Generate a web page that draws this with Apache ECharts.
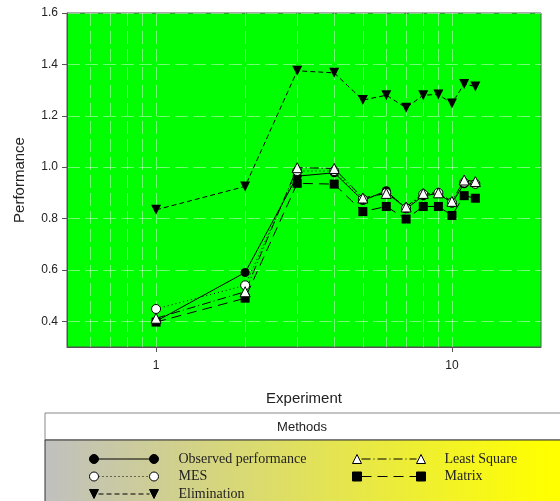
<!DOCTYPE html>
<html>
<head>
<meta charset="utf-8">
<script src="https://cdn.jsdelivr.net/npm/echarts@6/dist/echarts.min.js"></script>
<style>
  html, body { margin: 0; padding: 0; background: #fff; }
  #chart { width: 560px; height: 501px; }
</style>
</head>
<body>
<div id="chart"></div>
<script>
// experiment numbers (log x axis)
const experiments = [1, 2, 3, 4, 5, 6, 7, 8, 9, 10, 11, 12];
const observed    = [0.40, 0.59, 0.965, 0.978, 0.870, 0.908, 0.838, 0.888, 0.898, 0.860, 0.935, 0.935];
const mes         = [0.448, 0.540, 0.985, 0.985, 0.875, 0.900, 0.840, 0.895, 0.900, 0.862, 0.940, 0.935];
const elimination = [0.834, 0.925, 1.375, 1.367, 1.261, 1.280, 1.231, 1.280, 1.283, 1.248, 1.324, 1.314];
const leastSquare = [0.412, 0.515, 0.998, 0.995, 0.880, 0.898, 0.845, 0.898, 0.900, 0.867, 0.950, 0.944];
const matrix      = [0.397, 0.490, 0.937, 0.934, 0.827, 0.847, 0.798, 0.847, 0.847, 0.812, 0.889, 0.879];

const xTickValues = [1, 10];
const xGridValues = [0.6, 0.7, 0.8, 0.9, 1, 2, 3, 4, 5, 6, 7, 8, 9, 10];
const yTickValues = [0.4, 0.6, 0.8, 1.0, 1.2, 1.4, 1.6];

const pairs = (ys) => experiments.map((x, i) => [x, ys[i]]);

// legend glyphs: a line with a marker at both ends
function segs(x0, x1, y, pattern) {
  if (!pattern) return `M${x0},${y}L${x1},${y}`;
  let s = '', x = x0, k = 0;
  while (x < x1) {
    const len = pattern[k % pattern.length];
    const end = Math.min(x + len, x1);
    if (k % 2 === 0) s += `M${x},${y}L${end},${y}`;
    x = end; k++;
  }
  return s;
}
function glyph(kind, w, pattern) {
  const r = 4.5, a = r, b = w - r;
  let m = '';
  for (const c of [a, b]) {
    if (kind === 'circle') m += `M${c - r},4.5a4.5,4.5 0 1,0 9,0a4.5,4.5 0 1,0 -9,0Z`;
    if (kind === 'down') m += `M${c - r},0L${c + r},0L${c},9Z`;
    if (kind === 'up') m += `M${c - r},9L${c + r},9L${c},0Z`;
    if (kind === 'square') m += `M${c - r},0L${c + r},0L${c + r},9L${c - r},9Z`;
  }
  return 'path://' + m + segs(a + r, b - r, 4.5, pattern);
}

const dotted = [1, 3];
const dashed = [5, 3];
const dashDot = [9, 3, 1, 3];
const longDash = [10, 6];
const gridLine = { color: 'rgba(255,255,255,0.45)', type: [13, 5] };

const chart = echarts.init(document.getElementById('chart'));

const baseText = { fontFamily: 'Liberation Sans, Arial, sans-serif', color: '#222' };
const legendText = { fontFamily: 'Liberation Serif, Times New Roman, serif', fontSize: 14, color: '#222', lineHeight: 14 };

chart.setOption({
  animation: false,
  backgroundColor: '#fff',
  grid: {
    left: 67, top: 13, width: 474, height: 334,
    show: true, backgroundColor: '#00ff00', borderColor: '#555', borderWidth: 1
  },
  xAxis: [{
    type: 'log', logBase: 10, min: 0.5, max: 20,
    name: 'Experiment', nameLocation: 'middle', nameGap: 44,
    nameTextStyle: { ...baseText, fontSize: 15 },
    axisLine: { lineStyle: { color: '#555' } },
    axisTick: { show: true, length: 5, customValues: xTickValues, lineStyle: { color: '#555' } },
    axisLabel: { ...baseText, fontSize: 12, margin: 13, customValues: xTickValues },
    splitLine: { show: false }
  }, {
    type: 'log', logBase: 10, min: 0.5, max: 20, position: 'bottom',
    axisLine: { show: false },
    axisLabel: { show: false },
    axisTick: { show: false, customValues: xGridValues },
    splitLine: { show: true, lineStyle: gridLine }
  }],
  yAxis: {
    type: 'value', min: 0.3, max: 1.6,
    name: 'Performance', nameLocation: 'middle', nameGap: 40,
    nameTextStyle: { ...baseText, fontSize: 15 },
    axisLine: { show: true, lineStyle: { color: '#555' } },
    axisTick: { show: true, length: 5, customValues: yTickValues, lineStyle: { color: '#555' } },
    axisLabel: { ...baseText, fontSize: 12, margin: 9, customValues: yTickValues, formatter: v => v.toFixed(1) },
    splitLine: { show: true, lineStyle: gridLine }
  },
  legend: [{
    left: 89, top: 452, height: 80, orient: 'vertical', padding: 0, itemGap: 3.5,
    itemWidth: 69, itemHeight: 9, selectedMode: false,
    textStyle: { ...legendText, padding: [0, 0, 0, 15] },
    data: [
      { name: 'Observed performance', icon: glyph('circle', 69), itemStyle: { color: '#000', borderColor: '#000', borderWidth: 1 } },
      { name: 'MES', icon: glyph('circle', 69, dotted), itemStyle: { color: '#fff', borderColor: '#000', borderWidth: 1 } },
      { name: 'Elimination', icon: glyph('down', 69, dashed), itemStyle: { color: '#000', borderColor: '#000', borderWidth: 1 } }
    ]
  }, {
    left: 352, top: 452, height: 80, orient: 'vertical', padding: 0, itemGap: 3.5,
    itemWidth: 73, itemHeight: 9, selectedMode: false,
    textStyle: { ...legendText, padding: [0, 0, 0, 14] },
    data: [
      { name: 'Least Square', icon: glyph('up', 73, dashDot), itemStyle: { color: '#fff', borderColor: '#000', borderWidth: 1 } },
      { name: 'Matrix', icon: glyph('square', 73, longDash), itemStyle: { color: '#000', borderColor: '#000', borderWidth: 1 } }
    ]
  }],
  graphic: [
    { type: 'rect', z: 0, shape: { x: 45, y: 413, width: 530, height: 27 },
      style: { fill: '#fff', stroke: '#888', lineWidth: 1 } },
    { type: 'rect', z: 0, shape: { x: 45, y: 440, width: 530, height: 70 },
      style: {
        fill: new echarts.graphic.LinearGradient(0, 0, 1, 0, [
          { offset: 0, color: '#c0c0c0' },
          { offset: 0.95, color: '#ffff00' },
          { offset: 1, color: '#ffff00' }
        ]),
        stroke: '#333', lineWidth: 1
      } },
    { type: 'text', z: 1, x: 302, y: 427,
      style: { text: 'Methods', fill: '#222', font: '13px Liberation Sans, Arial, sans-serif', textAlign: 'center', textVerticalAlign: 'middle' } }
  ],
  series: [{
    name: 'Elimination', type: 'line', data: pairs(elimination),
    symbol: 'triangle', symbolRotate: 180, symbolSize: 10,
    itemStyle: { color: '#000' },
    lineStyle: { color: '#000', width: 1, type: dashed }
  }, {
    name: 'Matrix', type: 'line', data: pairs(matrix),
    symbol: 'rect', symbolSize: 9,
    itemStyle: { color: '#000' },
    lineStyle: { color: '#000', width: 1, type: longDash }
  }, {
    name: 'Observed performance', type: 'line', data: pairs(observed),
    symbol: 'circle', symbolSize: 9,
    itemStyle: { color: '#000' },
    lineStyle: { color: '#000', width: 1, type: 'solid' }
  }, {
    name: 'MES', type: 'line', data: pairs(mes),
    symbol: 'circle', symbolSize: 9,
    itemStyle: { color: '#fff', borderColor: '#000', borderWidth: 1 },
    lineStyle: { color: '#000', width: 1, type: dotted }
  }, {
    name: 'Least Square', type: 'line', data: pairs(leastSquare),
    symbol: 'triangle', symbolSize: 10,
    itemStyle: { color: '#fff', borderColor: '#000', borderWidth: 1 },
    lineStyle: { color: '#000', width: 1, type: dashDot }
  }]
});
</script>
</body>
</html>
